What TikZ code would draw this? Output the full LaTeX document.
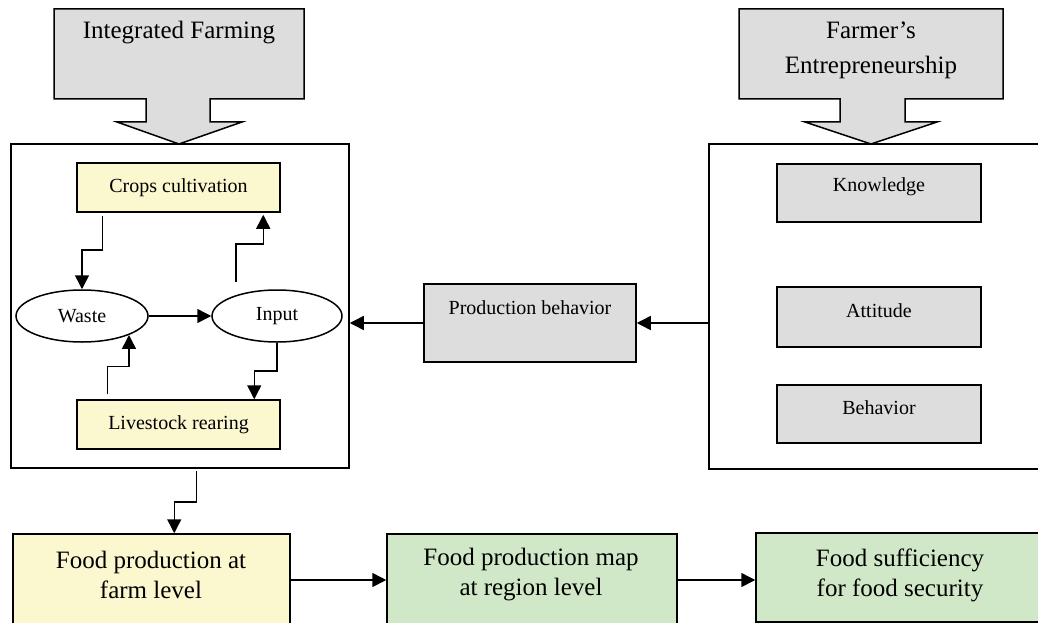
\documentclass[tikz,border=0pt]{standalone}
\usepackage{fontspec}
\setmainfont{Liberation Serif}
\usetikzlibrary{calc,arrows.meta,shapes.geometric}
\newcommand\fsbig{\fontsize{25}{30}\selectfont}
\newcommand\fsbigwide{\fontsize{25}{35}\selectfont}
\newcommand\fssmall{\fontsize{20}{24}\selectfont}
\definecolor{boxgray}{HTML}{DDDDDD}
\definecolor{boxyellow}{HTML}{FBF8CF}
\definecolor{boxgreen}{HTML}{D1E8C8}
\begin{document}
\begin{tikzpicture}[x=1pt,y=-1pt,
  frame/.style={draw, line width=1.5pt, inner sep=0pt, rectangle},
  graybox/.style={frame, fill=boxgray},
  yelbox/.style={frame, fill=boxyellow},
  grnbox/.style={frame, fill=boxgreen},
  oval/.style={draw, line width=1.5pt, ellipse, inner sep=0pt, fill=white},
  txt/.style={font=\fssmall, inner sep=0pt},
  bigtxt/.style={font=\fsbig, inner sep=0pt, align=center},
  arr/.style={line width=1.5pt, -{Triangle[length=14pt,width=14pt]}},
  bigarrow/.style={draw, line width=1.5pt, fill=boxgray, line join=miter}]
\useasboundingbox (0,0) rectangle (1038,623);
\begin{scope}
\clip (0,0) rectangle (1038,623);
% containers
\node[frame, minimum width=338pt, minimum height=324pt] (lbox) at (180,306) {};
\node[frame, minimum width=351pt, minimum height=325pt] (rbox) at (884.5,306.5) {};
% big arrows
\draw[bigarrow] (54,9) -- (304,9) -- (304,99) -- (210,99) -- (210,122) -- (242,122) -- (179,144) -- (117,122) -- (146,122) -- (146,99) -- (54,99) -- cycle;
\node[bigtxt] (ifarm) at (179,33) {Integrated Farming};
\draw[bigarrow] (739,9) -- (1003,9) -- (1003,99) -- (905,99) -- (905,122) -- (937,122) -- (871,144) -- (805,122) -- (840,122) -- (840,99) -- (739,99) -- cycle;
\node[bigtxt, font=\fsbigwide] (fent) at (871,50) {Farmer’s\\Entrepreneurship};
% integrated farming cycle
\node[yelbox, font=\fssmall, minimum width=203pt, minimum height=49pt] (crops) at (178.5,187.5) {Crops cultivation};
\node[oval, font=\fssmall, minimum width=132pt, minimum height=52pt] (waste) at (82,316) {Waste};
\node[oval, font=\fssmall, minimum width=130pt, minimum height=52pt] (input) at (277,316) {Input};
\node[yelbox, font=\fssmall, minimum width=203pt, minimum height=49pt] (livestock) at (178.5,424.5) {Livestock rearing};
% production behavior
\node[graybox, minimum width=212pt, minimum height=78pt] (pb) at (530,323) {};
\node[txt] (pbt) at (530,308) {Production behavior};
% entrepreneurship components
\node[graybox, minimum width=204pt, minimum height=58pt] (know) at (879,193) {};
\node[txt] (knowt) at (879,187) {Knowledge};
\node[graybox, minimum width=204pt, minimum height=60pt] (att) at (879,317) {};
\node[txt] (attt) at (879,311) {Attitude};
\node[graybox, minimum width=204pt, minimum height=58pt] (beh) at (879,414) {};
\node[txt] (beht) at (879,408) {Behavior};
% bottom row
\node[yelbox, minimum width=277pt, minimum height=92pt] (food1) at (151.5,580) {};
\node[bigtxt] (food1t) at (151,575) {Food production at\\farm level};
\node[grnbox, minimum width=290pt, minimum height=92pt] (food2) at (532,580) {};
\node[bigtxt] (food2t) at (531,575) {Food production map\\at region level};
\node[grnbox, minimum width=300pt, minimum height=89pt] (food3) at (906,577.5) {};
\node[bigtxt] (food3t) at (900,575) {Food sufficiency\\for food security};
% connectors
\draw[arr] ($(crops.south west)+(26,3)$) -- ++(0,34) -| (waste.north);
\draw[arr] ($(input.center)+(-41,-34)$) -- ++(0,-38) -| ($(crops.south west)+(187,2)$);
\draw[arr] (waste.east) -- (input.west);
\draw[arr] ($(livestock.north west)+(31,-5)$) -- ++(0,-28) -| (waste.-22);
\draw[arr] (input.south) -- ++(0,28) -| ($(livestock.north west)+(178,0)$);
\draw[arr] (pb.west) -- (pb.west -| lbox.east);
\draw[arr] (pb.east -| rbox.west) -- (pb.east);
\draw[arr] ($(lbox.south west)+(186,2)$) -- ++(0,31) -| ($(food1.north west)+(162,0)$);
\draw[arr] (food1.east) -- (food2.west);
\draw[arr] (food2.east) -- (food2.east -| food3.west);
\end{scope}
\end{tikzpicture}
\end{document}
